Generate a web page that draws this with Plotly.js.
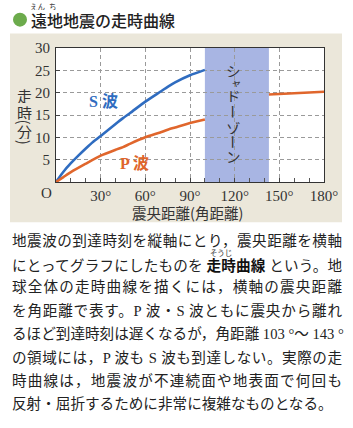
<!DOCTYPE html>
<html><head><meta charset="utf-8">
<script src="https://cdn.plot.ly/plotly-3.0.1.min.js"></script>
<style>
html,body{margin:0;padding:0;background:#fff;}
#wrap{position:relative;width:353px;height:428px;overflow:hidden;}
#chart{position:absolute;left:0;top:0;width:353px;height:428px;}
.ln{position:absolute;left:12px;width:330px;height:23px;line-height:23px;font-size:14.6px;color:#222;
 font-family:"Liberation Serif","Noto Sans CJK JP",serif;text-align:justify;text-align-last:justify;white-space:nowrap;}
.ln.last{text-align:left;text-align-last:left;}
.ln b{font-family:"Noto Sans CJK JP";font-weight:bold;color:#111;}
.rbw{position:relative;display:inline-block;text-align-last:auto;}
.rb{position:absolute;left:-4px;right:-4px;top:-4px;height:8px;line-height:8px;font-size:7.5px;font-weight:normal;text-align:center;text-align-last:center;color:#333;font-family:"Noto Sans CJK JP";}
</style></head>
<body><div id="wrap"><div id="chart"></div><div id="body"></div></div>
<script>
// ---- data ----
const angleS = [0,5,10,15,20,25,30,40,45,50,60,70,75,80,90,100];
const timeS  = [0,2.3,4.2,5.9,7.5,9.0,10.3,13.0,14.3,15.5,18.0,20.2,21.3,22.3,23.9,25.1];
const angleP1 = [0,5,10,20,30,40,45,50,60,70,75,80,90,100];
const timeP1  = [0,1.1,2.2,4.1,5.9,7.2,7.8,8.6,10.0,11.1,11.7,12.2,13.2,14.0];
const angleP2 = [143,150,160,170,180];
const timeP2  = [19.6,19.75,19.9,20.05,20.2];
const shadowZone = [100,143];
const xTickVals = [0,30,60,90,120,150,180];
const xTickText = ["","30°","60°","90°","120°","150°","180°"];
const yTickVals = [0,5,10,15,20,25,30];
const yTickText = ["","5","10","15","20","25","30"];
const titleText = "遠地地震の走時曲線";
const titleRuby = ["えん","ち"];
const xTitle = "震央距離(角距離)";
const yTitleChars = ["走","時","(","分",")"];
const shadowChars = ["シ","ャ","ド","ー","ゾ","ー","ン"];
const sLabel = "S 波", pLabel = "P 波";
const bodyLines = [
 "地震波の到達時刻を縦軸にとり，震央距離を横軸",
 "にとってグラフにしたものを <b><span class=\"rbw\">走時<span class=\"rb\">そうじ</span></span>曲線</b> という。地",
 "球全体の走時曲線を描くには，横軸の震央距離",
 "を角距離で表す。P 波・S 波ともに震央から離れ",
 "るほど到達時刻は遅くなるが，角距離 103 °～ 143 °",
 "の領域には，P 波も S 波も到達しない。実際の走",
 "時曲線は，地震波が不連続面や地表面で何回も",
 "反射・屈折するために非常に複雑なものとなる。"
];

// ---- geometry helpers (pixel -> paper) ----
const L=56, R=324, T=47.5, B=182.5;
const px = x => (x-L)/(R-L);
const py = y => (B-y)/(B-T);

const blue = "#2f6cc0", orange = "#e0662c";
const traces = [
 {x:angleS, y:timeS, mode:"lines", line:{color:blue,width:2.6,shape:"spline",smoothing:0.6}, hoverinfo:"skip"},
 {x:angleP1, y:timeP1, mode:"lines", line:{color:orange,width:2.6,shape:"spline",smoothing:0.6}, hoverinfo:"skip"},
 {x:angleP2, y:timeP2, mode:"lines", line:{color:orange,width:2.6}, hoverinfo:"skip"}
];

const cjk = "Noto Sans CJK JP";
const ann = [];
const rotChars = ["(",")","ー"];
function charAnn(c,x,y,size,color,h){
  const rot = rotChars.includes(c);
  const a = {xref:"paper",yref:"paper",x:px(x),y:py(y),xanchor:"center",yanchor:"middle",text:c,showarrow:false,
    font:{family:cjk,size:size,color:color}};
  if(rot){a.textangle=90;} else {a.height=h;}
  return a;
}
// title
ann.push({xref:"paper",yref:"paper",x:px(29),y:py(19.5),xanchor:"left",yanchor:"middle",text:titleText,showarrow:false,height:18,
  font:{family:cjk,size:16,color:"#222",weight:500}});
ann.push({xref:"paper",yref:"paper",x:px(37.5),y:py(5.5),xanchor:"center",yanchor:"middle",text:titleRuby[0],showarrow:false,height:8,font:{family:cjk,size:7.5,color:"#333"}});
ann.push({xref:"paper",yref:"paper",x:px(53),y:py(5.5),xanchor:"center",yanchor:"middle",text:titleRuby[1],showarrow:false,height:8,font:{family:cjk,size:7.5,color:"#333"}});
// origin O
ann.push({xref:"paper",yref:"paper",x:px(46.5),y:py(193.5),xanchor:"center",yanchor:"middle",text:"O",showarrow:false,font:{family:"Liberation Serif",size:15,color:"#333"}});
// x title
ann.push({xref:"paper",yref:"paper",x:px(187),y:py(213),xanchor:"center",yanchor:"middle",text:xTitle,showarrow:false,font:{family:cjk,size:14.5,color:"#333"}});
// y title (vertical)
const yPos=[95,112.5,122,132,142.5];
yTitleChars.forEach((c,i)=>ann.push(charAnn(c,24.5,yPos[i],15,"#333",15)));
// shadow zone text
const sPosY=[70,82.5,95,111.5,127,142,156], sPosX=[233,236,233,233,233,233,233];
shadowChars.forEach((c,i)=>ann.push(charAnn(c,sPosX[i],sPosY[i],i===1?10.5:14.5,"#333",i===1?9:14)));
// wave labels
ann.push({xref:"x",yref:"y",x:32.2,y:18,xanchor:"center",yanchor:"middle",text:sLabel,showarrow:false,font:{family:"Liberation Serif, "+cjk,size:16,color:blue,weight:"bold"}});
ann.push({xref:"x",yref:"y",x:53,y:4.2,xanchor:"center",yanchor:"middle",text:pLabel,showarrow:false,font:{family:"Liberation Serif, "+cjk,size:16,color:orange,weight:"bold"}});

const shapes = [
 {type:"rect",xref:"paper",yref:"paper",x0:px(10),x1:px(342),y0:py(223),y1:py(33),fillcolor:"#ebe7da",line:{width:0},layer:"below"},
 {type:"rect",xref:"paper",yref:"paper",x0:0,x1:1,y0:0,y1:1,fillcolor:"#ffffff",line:{width:0},layer:"below"},
 {type:"rect",xref:"x",yref:"paper",x0:shadowZone[0],x1:shadowZone[1],y0:0,y1:1,fillcolor:"#a8b5e3",line:{width:0},layer:"between"},
 {type:"circle",xref:"paper",yref:"paper",x0:px(13),x1:px(27),y0:py(26),y1:py(12),fillcolor:"#6cab4c",line:{width:0},layer:"below"}
];

const layout = {
 width:353,height:428,margin:{l:L,r:353-R,t:T,b:428-B,pad:0},
 paper_bgcolor:"rgba(0,0,0,0)",plot_bgcolor:"rgba(0,0,0,0)",showlegend:false,
 xaxis:{range:[0,180],tickvals:xTickVals,ticktext:xTickText,ticks:"inside",ticklen:4,tickcolor:"#444",
   showgrid:true,gridcolor:"#9a9a9a",griddash:"4px,3px",gridwidth:1,zeroline:false,
   showline:true,linecolor:"#333",linewidth:1,mirror:true,
   minor:{dtick:10,tick0:0,ticks:"inside",ticklen:4,tickcolor:"#555",showgrid:false},
   tickfont:{family:"Liberation Serif",size:15,color:"#333"},fixedrange:true},
 yaxis:{range:[0,30],tickvals:yTickVals,ticktext:yTickText,ticks:"inside",ticklen:4,tickcolor:"#444",
   showgrid:true,gridcolor:"#9a9a9a",griddash:"4px,3px",gridwidth:1,zeroline:false,
   showline:true,linecolor:"#333",linewidth:1,mirror:true,ticklabelstandoff:2,
   tickfont:{family:"Liberation Serif",size:15,color:"#333"},fixedrange:true},
 shapes:shapes,annotations:ann
};
Plotly.newPlot("chart",traces,layout,{staticPlot:true,displayModeBar:false});

// body text
const body=document.getElementById("body");
bodyLines.forEach((t,i)=>{
  const d=document.createElement("div");
  d.className="ln"+(i===bodyLines.length-1?" last":"");
  d.style.top=(241+23.4*i-11.5)+"px";
  d.innerHTML=t;
  body.appendChild(d);
});
</script></body></html>
